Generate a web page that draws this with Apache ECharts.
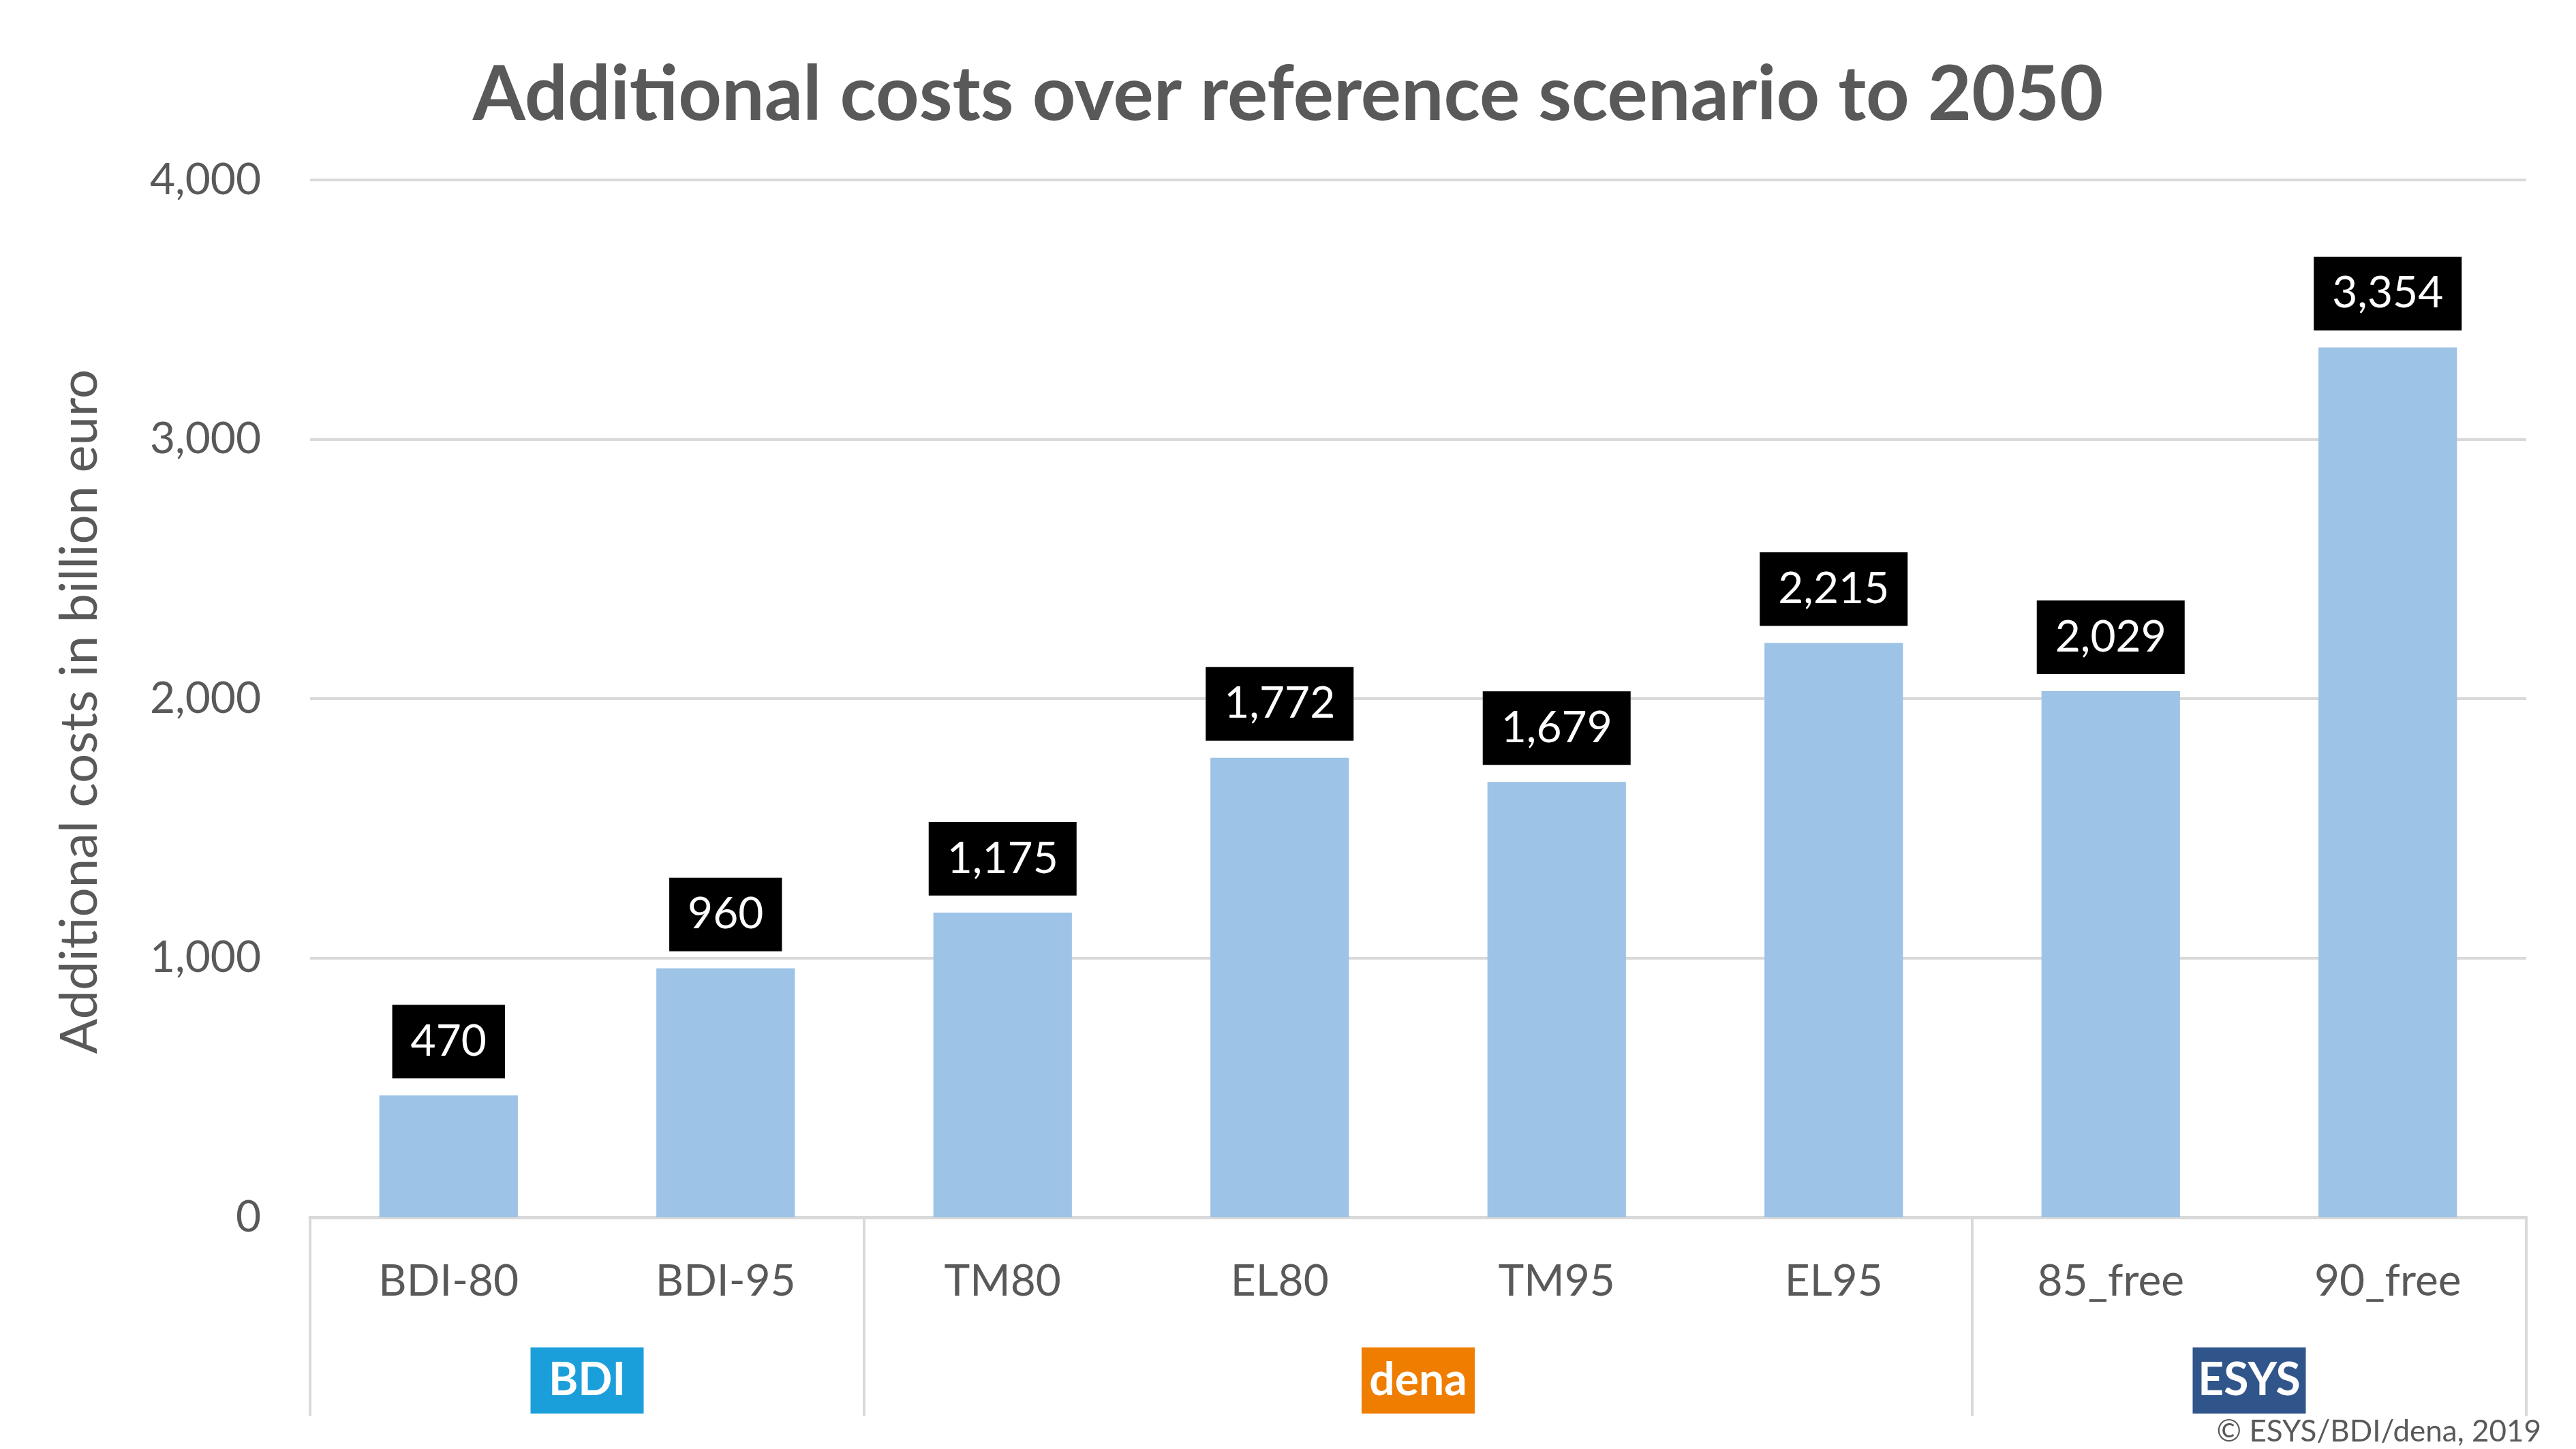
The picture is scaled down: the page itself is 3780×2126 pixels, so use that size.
<!DOCTYPE html>
<html>
<head>
<meta charset="utf-8">
<title>Additional costs over reference scenario to 2050</title>
<script src="https://cdn.jsdelivr.net/npm/echarts@6/dist/echarts.min.js"></script>
<style>
    html, body { margin: 0; padding: 0; background: #fff; }
    #chart { width: 3780px; height: 2126px; }
</style>
</head>
<body>
<div id="chart"></div>
<script>
// scenarios and their extra cost vs. reference (billion euro)
var scenarios = ['BDI-80', 'BDI-95', 'TM80', 'EL80', 'TM95', 'EL95', '85_free', '90_free'];
var costs = [470, 960, 1175, 1772, 1679, 2215, 2029, 3354];

// study groups: name, colour, centre and edges on the 0..8 category scale
var groupNames = ['BDI', 'dena', 'ESYS'];
var groupColors = ['#1b9fdb', '#ef7d00', '#30558a'];
var groupCentres = [1, 4, 7];
var groupEdges = [0, 2, 6, 8];

var yTicks = [0, 1000, 2000, 3000, 4000];

var GREY = '#595959';
var FONT = 'Lato, "Open Sans", sans-serif';

var fmt = function(v) {
    return Number(v).toLocaleString('en-US');
};

var chart = echarts.init(document.getElementById('chart'));

var groupRich = {};
groupNames.forEach(function(n, i) {
    groupRich['g' + i] = {
        backgroundColor: groupColors[i],
        color: '#fff',
        fontWeight: 'bold',
        fontSize: 66,
        fontFamily: FONT,
        width: 166,
        height: 97,
        lineHeight: 97,
        align: 'center'
    };
});

var option = {
    backgroundColor: '#fff',
    animation: false,
    title: [{
        text: 'Additional costs over reference scenario to 2050',
        left: 'center',
        top: 80,
        textStyle: {
            color: GREY,
            fontSize: 111,
            fontWeight: 'bold',
            fontFamily: FONT
        }
    }, {
        text: '© ESYS/BDI/dena, 2019',
        right: 46,
        top: 2074,
        textStyle: {
            color: GREY,
            fontSize: 44,
            fontWeight: 'normal',
            fontFamily: FONT
        }
    }],
    grid: {
        left: 455,
        right: 73,
        top: 264,
        bottom: 340,
        containLabel: false
    },
    xAxis: [{
        type: 'category',
        data: scenarios,
        axisLine: { lineStyle: { color: '#d9d9d9', width: 5 } },
        axisTick: { show: false },
        axisLabel: {
            color: GREY,
            fontSize: 64,
            fontFamily: FONT,
            margin: 62,
            interval: 0
        }
    }, {
        type: 'value',
        min: 0,
        max: 8,
        position: 'bottom',
        axisLine: { show: false },
        splitLine: { show: false },
        axisTick: {
            show: true,
            customValues: groupEdges,
            length: 292,
            lineStyle: { color: '#d9d9d9', width: 4 }
        },
        axisLabel: {
            customValues: groupCentres,
            margin: 191,
            formatter: function(v) {
                var i = groupCentres.indexOf(v);
                return i < 0 ? '' : '{g' + i + '|' + groupNames[i] + '}';
            },
            rich: groupRich
        }
    }],
    yAxis: {
        type: 'value',
        min: yTicks[0],
        max: yTicks[yTicks.length - 1],
        interval: 1000,
        name: 'Additional costs in billion euro',
        nameLocation: 'middle',
        nameGap: 300,
        nameTextStyle: {
            color: GREY,
            fontSize: 76,
            fontFamily: FONT,
            padding: [0, 38, 0, 0]
        },
        axisLine: { show: false },
        axisTick: { show: false },
        splitLine: { lineStyle: { color: '#d9d9d9', width: 4 } },
        axisLabel: {
            color: GREY,
            fontSize: 64,
            fontFamily: FONT,
            margin: 72,
            formatter: fmt
        }
    },
    series: [{
        type: 'bar',
        data: costs,
        barWidth: '50%',
        itemStyle: { color: '#9dc3e6' },
        label: {
            show: true,
            position: 'top',
            distance: 25,
            formatter: function(p) { return fmt(p.value); },
            color: '#fff',
            backgroundColor: '#000',
            padding: [22, 27],
            fontSize: 64,
            fontFamily: FONT
        }
    }]
};

chart.setOption(option);
</script>
</body>
</html>
